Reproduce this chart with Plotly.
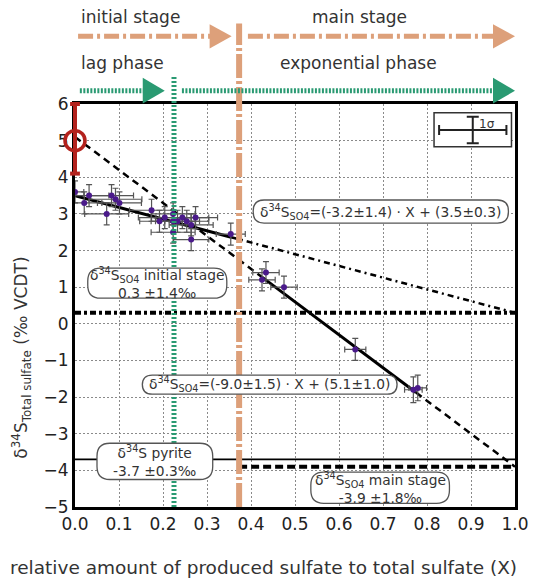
import plotly.graph_objects as go

# ---- measured sulfate isotope data -------------------------------------
x_frac = [0.000, 0.021, 0.032, 0.072, 0.083, 0.092, 0.101, 0.174, 0.192, 0.204,
          0.223, 0.223, 0.223, 0.233, 0.244, 0.254, 0.264, 0.264, 0.274, 0.354,
          0.425, 0.434, 0.475, 0.637, 0.769, 0.779]
d34s = [3.6, 3.3, 3.5, 3.0, 3.5, 3.4, 3.3, 3.1, 2.8, 2.9,
        3.0, 2.8, 2.5, 2.8, 2.9, 2.8, 2.7, 2.3, 2.9, 2.45,
        1.2, 1.4, 1.0, -0.7, -1.8, -1.75]
x_err = [0.02, 0.04, 0.045, 0.05, 0.05, 0.06, 0.05, 0.05, 0.045, 0.06,
         0.05, 0.05, 0.05, 0.05, 0.06, 0.05, 0.05, 0.04, 0.05, 0.033,
         0.03, 0.03, 0.03, 0.024, 0.02, 0.02]
y_err = [0.3, 0.3, 0.3, 0.3, 0.3, 0.3, 0.3, 0.3, 0.3, 0.3,
         0.3, 0.3, 0.3, 0.3, 0.3, 0.3, 0.3, 0.3, 0.3, 0.3,
         0.3, 0.3, 0.3, 0.3, 0.35, 0.35]

# starting sulfate value with its range
start_x = 0.0
start_y = 5.0
start_low = 4.1
start_high = 6.0

# regression fits (slope, intercept) and the x-range of each fitted stage
fit_initial = (-3.2, 3.5)
fit_initial_range = (0.0, 0.355)
fit_main = (-9.0, 5.1)
fit_main_range = (0.425, 0.775)

# reference levels
pyrite_level = -3.7
initial_level = 0.3
main_level = -3.9

# stage / phase boundaries
lag_end = 0.225
initial_end = 0.373

x_ticks = [0.0, 0.1, 0.2, 0.3, 0.4, 0.5, 0.6, 0.7, 0.8, 0.9, 1.0]
y_ticks = [-5, -4, -3, -2, -1, 0, 1, 2, 3, 4, 5, 6]

# ---- styling ------------------------------------------------------------
FONT = "DejaVu Sans"
ORANGE = "#dda07a"
GREEN = "#2a9a72"
RED = "#b3221d"
POINT = "#4a1a8a"
TXT = "#333333"
Y_RANGE = (-5, 6)
PLOT_H_PX = 403.0
LINE_SYMBOL_SCALE = 1.4  # plotly draws line-ns / line-ew symbols 1.4x their size


def line_y(fit, x):
    return fit[0] * x + fit[1]


fig = go.Figure()

# horizontal reference levels
fig.add_trace(go.Scatter(x=[0, 1], y=[pyrite_level] * 2, mode="lines",
                         line=dict(color="black", width=1.6), hoverinfo="skip"))
fig.add_trace(go.Scatter(x=[0, 1], y=[initial_level] * 2, mode="lines",
                         line=dict(color="black", width=4, dash="6px,3px,3px,3px"),
                         hoverinfo="skip"))
fig.add_trace(go.Scatter(x=[initial_end, 1], y=[main_level] * 2, mode="lines",
                         line=dict(color="black", width=4, dash="8px,4px"),
                         hoverinfo="skip"))

# regression of the initial stage and its extrapolation
x0, x1 = fit_initial_range
fig.add_trace(go.Scatter(x=[x1, 1.0], y=[line_y(fit_initial, x1), line_y(fit_initial, 1.0)],
                         mode="lines", line=dict(color="black", width=2.5, dash="6px,4px,2px,4px"),
                         hoverinfo="skip"))
fig.add_trace(go.Scatter(x=[x0, x1], y=[line_y(fit_initial, x0), line_y(fit_initial, x1)],
                         mode="lines", line=dict(color="black", width=3), hoverinfo="skip"))

# regression of the main stage and its extrapolation to both ends
m0, m1 = fit_main_range
fig.add_trace(go.Scatter(x=[0.0, m0], y=[line_y(fit_main, 0.0), line_y(fit_main, m0)],
                         mode="lines", line=dict(color="black", width=2.5, dash="7px,5px"),
                         hoverinfo="skip"))
fig.add_trace(go.Scatter(x=[m1, 1.0], y=[line_y(fit_main, m1), line_y(fit_main, 1.0)],
                         mode="lines", line=dict(color="black", width=2.5, dash="7px,5px"),
                         hoverinfo="skip"))
fig.add_trace(go.Scatter(x=[m0, m1], y=[line_y(fit_main, m0), line_y(fit_main, m1)],
                         mode="lines", line=dict(color="black", width=3), hoverinfo="skip"))

# measured values with 1-sigma error bars
fig.add_trace(go.Scatter(
    x=x_frac, y=d34s, mode="markers",
    marker=dict(color=POINT, size=6),
    error_x=dict(type="data", array=x_err, color="#555555", thickness=1.2, width=3),
    error_y=dict(type="data", array=y_err, color="#555555", thickness=1.2, width=3),
    hoverinfo="skip"))

# 1-sigma key
fig.add_trace(go.Scatter(
    x=[0.904], y=[5.29], mode="markers", marker=dict(size=1, color="rgba(0,0,0,0)"),
    error_x=dict(type="data", array=[0.0765], color="#222222", thickness=2, width=5),
    error_y=dict(type="data", array=[0.36], color="#222222", thickness=2, width=6),
    hoverinfo="skip"))

# initial sulfate: range bar (sized from its limits) with caps, and the value as a ring
px_per_unit = PLOT_H_PX / (Y_RANGE[1] - Y_RANGE[0])
bar_len_px = (start_high - start_low) * px_per_unit
fig.add_trace(go.Scatter(
    x=[start_x], y=[(start_low + start_high) / 2], mode="markers", cliponaxis=False,
    marker=dict(symbol="line-ns", size=bar_len_px / LINE_SYMBOL_SCALE,
                line=dict(width=4, color=RED)),
    hoverinfo="skip"))
fig.add_trace(go.Scatter(
    x=[start_x, start_x], y=[start_low, start_high], mode="markers", cliponaxis=False,
    marker=dict(symbol="line-ew", size=7, line=dict(width=4, color=RED)),
    hoverinfo="skip"))
fig.add_trace(go.Scatter(
    x=[start_x], y=[start_y], mode="markers", cliponaxis=False,
    marker=dict(symbol="circle-open", size=20, color=RED, line=dict(width=3.5, color=RED)),
    hoverinfo="skip"))

shapes = []

# stage boundaries extending into the header
shapes.append(dict(type="line", xref="x", yref="paper", x0=lag_end, x1=lag_end,
                   y0=0, y1=1.068, layer="above",
                   line=dict(color=GREEN, width=5, dash="2px,2px")))
shapes.append(dict(type="line", xref="x", yref="paper", x0=initial_end, x1=initial_end,
                   y0=0, y1=1.2, layer="above",
                   line=dict(color=ORANGE, width=6, dash="24px,3px,3px,3px")))


def arrow(xs, xe, y, color, width, dash, head_len, head_half):
    out = [dict(type="line", xref="x", yref="paper", x0=xs, x1=xe - head_len * 0.6,
                y0=y, y1=y, layer="above", line=dict(color=color, width=width, dash=dash))]
    path = (f"M {xe},{y} L {xe - head_len},{y + head_half} "
            f"L {xe - head_len},{y - head_half} Z")
    out.append(dict(type="path", xref="x", yref="paper", path=path, layer="above",
                    fillcolor=color, line=dict(width=0)))
    return out


HL = 0.05
HH_O = 0.03
HH_G = 0.032
Y_STAGE = 1.168
Y_PHASE = 1.033
shapes += arrow(0.007, 0.356, Y_STAGE, ORANGE, 5, "15px,4px,3px,4px", HL, HH_O)
shapes += arrow(0.393, 1.0, Y_STAGE, ORANGE, 5, "15px,4px,3px,4px", HL, HH_O)
shapes += arrow(0.011, 0.204, Y_PHASE, GREEN, 5, "2px,1.5px", HL, HH_G)
shapes += arrow(0.243, 1.0, Y_PHASE, GREEN, 5, "2px,1.5px", HL, HH_G)

# 1-sigma key frame
shapes.append(dict(type="rect", xref="x", yref="y", x0=0.816, x1=0.992, y0=4.83, y1=5.76,
                   layer="between", fillcolor="white", line=dict(color="#333333", width=1.5)))


def rounded_box(xa, xb, ya, yb, r_px):
    rx = r_px / 444.5
    ry = r_px / 36.64
    p = (f"M {xa + rx},{yb} L {xb - rx},{yb} Q {xb},{yb} {xb},{yb - ry} "
         f"L {xb},{ya + ry} Q {xb},{ya} {xb - rx},{ya} L {xa + rx},{ya} "
         f"Q {xa},{ya} {xa},{ya + ry} L {xa},{yb - ry} Q {xa},{yb} {xa + rx},{yb} Z")
    return dict(type="path", xref="x", yref="y", path=p, layer="above",
                fillcolor="white", line=dict(color="#555555", width=1.3))


boxes = [
    (0.405, 0.985, 2.75, 3.38, 11, 0.695, 3.065,
     "δ<sup>34</sup>S<sub>SO4</sub>=(-3.2±1.4) · X + (3.5±0.3)"),
    (0.029, 0.345, 0.70, 1.52, 13, 0.187, 1.11,
     "δ<sup>34</sup>S<sub>SO4</sub> initial stage<br>0.3 ±1.4‰"),
    (0.153, 0.732, -1.92, -1.40, 10, 0.4425, -1.64,
     "δ<sup>34</sup>S<sub>SO4</sub>=(-9.0±1.5) · X + (5.1±1.0)"),
    (0.050, 0.313, -4.25, -3.26, 13, 0.1815, -3.755,
     "δ<sup>34</sup>S pyrite<br>-3.7 ±0.3‰"),
    (0.536, 0.851, -4.90, -4.05, 13, 0.6935, -4.475,
     "δ<sup>34</sup>S<sub>SO4</sub> main stage<br>-3.9 ±1.8‰"),
]

annotations = []
for xa, xb, ya, yb, r, cx, cy, txt in boxes:
    shapes.append(rounded_box(xa, xb, ya, yb, r))
    annotations.append(dict(x=cx, y=cy, xref="x", yref="y", text=txt, showarrow=False,
                            xanchor="center", yanchor="middle",
                            font=dict(family=FONT, size=13.8, color=TXT), align="center"))

annotations.append(dict(x=0.936, y=5.46, xref="x", yref="y", text="1σ", showarrow=False,
                        xanchor="center", yanchor="middle",
                        font=dict(family=FONT, size=12, color=TXT)))

# header labels
hdr = dict(xref="x", yref="paper", showarrow=False, yanchor="middle",
           font=dict(family=FONT, size=17, color=TXT))
annotations += [
    dict(x=0.008, y=1.216, text="initial stage", xanchor="left", **hdr),
    dict(x=0.646, y=1.216, text="main stage", xanchor="center", **hdr),
    dict(x=0.008, y=1.102, text="lag phase", xanchor="left", **hdr),
    dict(x=0.645, y=1.102, text="exponential phase", xanchor="center", **hdr),
]

# axis titles
annotations += [
    dict(x=0.428, y=-0.151, xref="paper", yref="paper", xanchor="center", yanchor="middle",
         text="relative amount of produced sulfate to total sulfate (X)",
         showarrow=False, font=dict(family=FONT, size=18.5, color=TXT)),
    dict(x=-0.121, y=0.37, xref="paper", yref="paper", textangle=-90,
         xanchor="center", yanchor="middle",
         text="δ<sup>34</sup>S<sub>Total sulfate</sub> (‰ VCDT)",
         showarrow=False, font=dict(family=FONT, size=17, color=TXT)),
]

axis_common = dict(
    showgrid=True, gridcolor="#8a8a8a", gridwidth=1, griddash="2px,2px",
    zeroline=False, showline=True, linecolor="black", linewidth=3, mirror=True,
    ticks="", layer="below traces",
    tickfont=dict(family=FONT, size=17, color="#222222"),
)

fig.update_layout(
    width=541, height=581,
    margin=dict(l=75, r=21, t=104, b=74),
    paper_bgcolor="white", plot_bgcolor="white",
    showlegend=False,
    shapes=shapes,
    annotations=annotations,
    xaxis=dict(range=[0, 1.0], tickvals=x_ticks, tickformat=".1f", **axis_common),
    yaxis=dict(range=list(Y_RANGE), tickvals=y_ticks, **axis_common),
)

fig.write_html("out.html")
